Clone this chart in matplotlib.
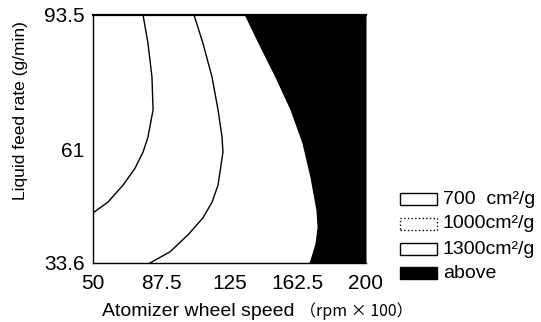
import matplotlib.pyplot as plt
from matplotlib.patches import Rectangle

plt.rcParams['font.family'] = ['Liberation Sans', 'DejaVu Sans']

# contour lines (y = liquid feed rate, x = wheel speed)
c700_y = [93.5, 86.7, 78.5, 70.6, 64.0, 60.4, 56.5, 52.4, 48.3, 45.7]
c700_x = [77.5, 80.2, 82.4, 83.0, 80.2, 77.5, 73.1, 66.5, 58.2, 50.0]

c1000_y = [93.5, 86.7, 78.5, 70.6, 64.0, 60.4, 52.4, 48.3, 44.5, 40.4, 36.3, 33.6]
c1000_x = [105.5, 110.4, 115.4, 118.7, 120.9, 121.4, 118.7, 115.4, 110.4, 102.2, 92.3, 81.3]

c1300_y = [93.5, 86.7, 78.5, 70.6, 62.6, 54.4, 46.4, 42.3, 38.4, 34.3, 33.6]
c1300_x = [133.2, 140.7, 150.0, 158.3, 164.8, 169.2, 172.5, 173.1, 172.0, 169.2, 168.5]

xticks = [50, 87.5, 125, 162.5, 200]
yticks = [33.6, 61, 93.5]
legend_labels = ['700  cm²/g', '1000cm²/g', '1300cm²/g', 'above']

fig = plt.figure(figsize=(5.41, 3.22), dpi=100)
W, H = 541, 322
ax = fig.add_axes([93 / W, 59 / H, 273 / W, 248 / H])
ax.set_xlim(50, 200)
ax.set_ylim(33.6, 93.5)

ax.fill_betweenx(c1300_y, c1300_x, 200, color='black', lw=0)
ax.plot(c700_x, c700_y, color='black', lw=1)
ax.plot(c1000_x, c1000_y, color='black', lw=1)

ax.set_xticks(xticks)
ax.set_xticklabels(['50', '87.5', '125', '162.5', '200'])
ax.set_yticks(yticks)
ax.set_yticklabels(['33.6', '61', '93.5'])
ax.tick_params(length=0, labelsize=15)
ax.tick_params(axis='x', pad=8)
ax.tick_params(axis='y', pad=6)
ax.spines['right'].set_visible(False)
ax.spines['top'].set_linewidth(1.6)
ax.spines['left'].set_linewidth(1)
ax.spines['bottom'].set_linewidth(1)

fig.text(21 / W, 1 - 111 / H, 'Liquid feed rate (g/min)', rotation=90,
         ha='center', va='center', fontsize=12.5)
fig.text(102 / W, 1 - 311 / H, 'Atomizer wheel speed', ha='left',
         va='center', fontsize=14)
fig.text(300 / W, 1 - 311 / H, '\uff08rpm \u00d7 100\uff09', ha='left',
         va='center', fontsize=11.5,
         family=['Noto Sans CJK JP', 'DejaVu Sans'])

# legend boxes
rows = [199, 224, 249, 273]
styles = [('white', '-'), ('white', ':'), ('white', '-'), ('black', '-')]
for yc, (fc, ls), lab in zip(rows, styles, legend_labels):
    r = Rectangle((400 / W, 1 - (yc + 6) / H), 37 / W, 12 / H,
                  transform=fig.transFigure, facecolor=fc,
                  edgecolor='black', linestyle=ls, lw=1)
    fig.add_artist(r)
    fig.text(443 / W, 1 - yc / H, lab, ha='left', va='center', fontsize=14)

fig.savefig('out.png', dpi=100)
